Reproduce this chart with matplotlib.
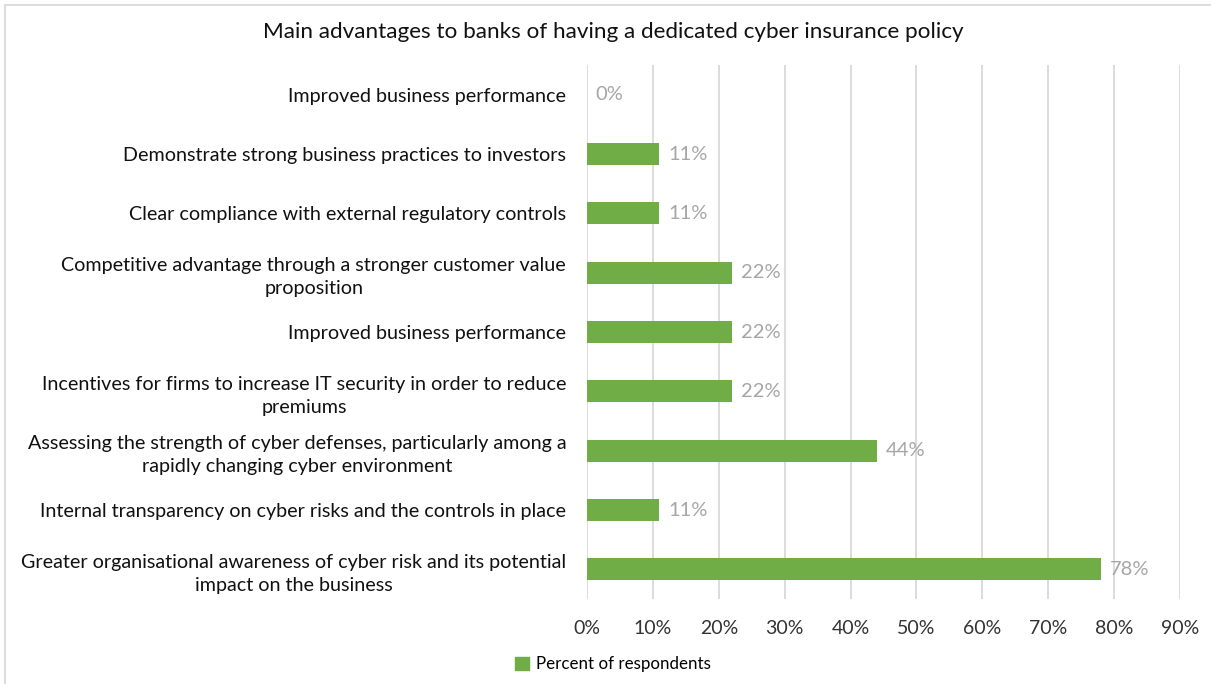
import matplotlib.pyplot as plt
from matplotlib.lines import Line2D
from matplotlib.patches import Patch

plt.rcParams['font.family'] = ['Lato', 'DejaVu Sans']

# Survey answers, listed top to bottom as shown
categories = [
    "Improved business performance",
    "Demonstrate strong business practices to investors",
    "Clear compliance with external regulatory controls",
    "Competitive advantage through a stronger customer value\nproposition",
    "Improved business performance",
    "Incentives for firms to increase IT security in order to reduce\npremiums",
    "Assessing the strength of cyber defenses, particularly among a\nrapidly changing cyber environment",
    "Internal transparency on cyber risks and the controls in place",
    "Greater organisational awareness of cyber risk and its potential\nimpact on the business",
]
percent = [0, 11, 11, 22, 22, 22, 44, 11, 78]
x_ticks = [0, 10, 20, 30, 40, 50, 60, 70, 80, 90]

GREEN = "#70AD47"
GRID = "#D9D9D9"
LABEL_GREY = "#A6A6A6"

fig = plt.figure(figsize=(12.11, 6.84), dpi=100)
ax = fig.add_axes([587 / 1211, 85 / 684, 593 / 1211, 534 / 684])

pos = list(range(len(categories)))
ax.barh(pos, percent, height=0.37, color=GREEN, zorder=3)
for y, v in zip(pos, percent):
    ax.text(v + 1.3, y, f"{v}%", va="center", ha="left", fontsize=14.5,
            color=LABEL_GREY, zorder=4)

ax.set_xlim(0, 90)
ax.set_ylim(len(categories) - 0.5, -0.5)
ax.set_xticks(x_ticks)
ax.set_xticklabels([f"{t}%" for t in x_ticks], fontsize=14, color="#333333")
ax.set_yticks(pos)
ax.set_yticklabels(categories, fontsize=14.2, color="#111111", ha="right",
                   multialignment="center", linespacing=1.45)
ax.tick_params(axis="y", length=0, pad=15)
ax.tick_params(axis="x", length=0, pad=15)
ax.xaxis.grid(True, color=GRID, linewidth=1.3, zorder=0)
for side in ax.spines.values():
    side.set_visible(False)

fig.suptitle("Main advantages to banks of having a dedicated cyber insurance policy",
             x=613 / 1211, y=1 - 32 / 684, va="center", fontsize=16.2, color="#111111")

fig.legend(handles=[Patch(color=GREEN, label="Percent of respondents")],
           loc="center", bbox_to_anchor=(613 / 1211, 1 - 664 / 684),
           frameon=False, fontsize=12.2, handlelength=0.8, handleheight=0.8,
           handletextpad=0.4)

# thin frame along the top and left edges
fig.add_artist(Line2D([5 / 1211, 5 / 1211], [0, 1 - 5 / 684], transform=fig.transFigure,
                      color=GRID, linewidth=1.3))
fig.add_artist(Line2D([5 / 1211, 1], [1 - 5 / 684, 1 - 5 / 684], transform=fig.transFigure,
                      color=GRID, linewidth=1.3))

fig.savefig("out.png", dpi=100, facecolor="white")
